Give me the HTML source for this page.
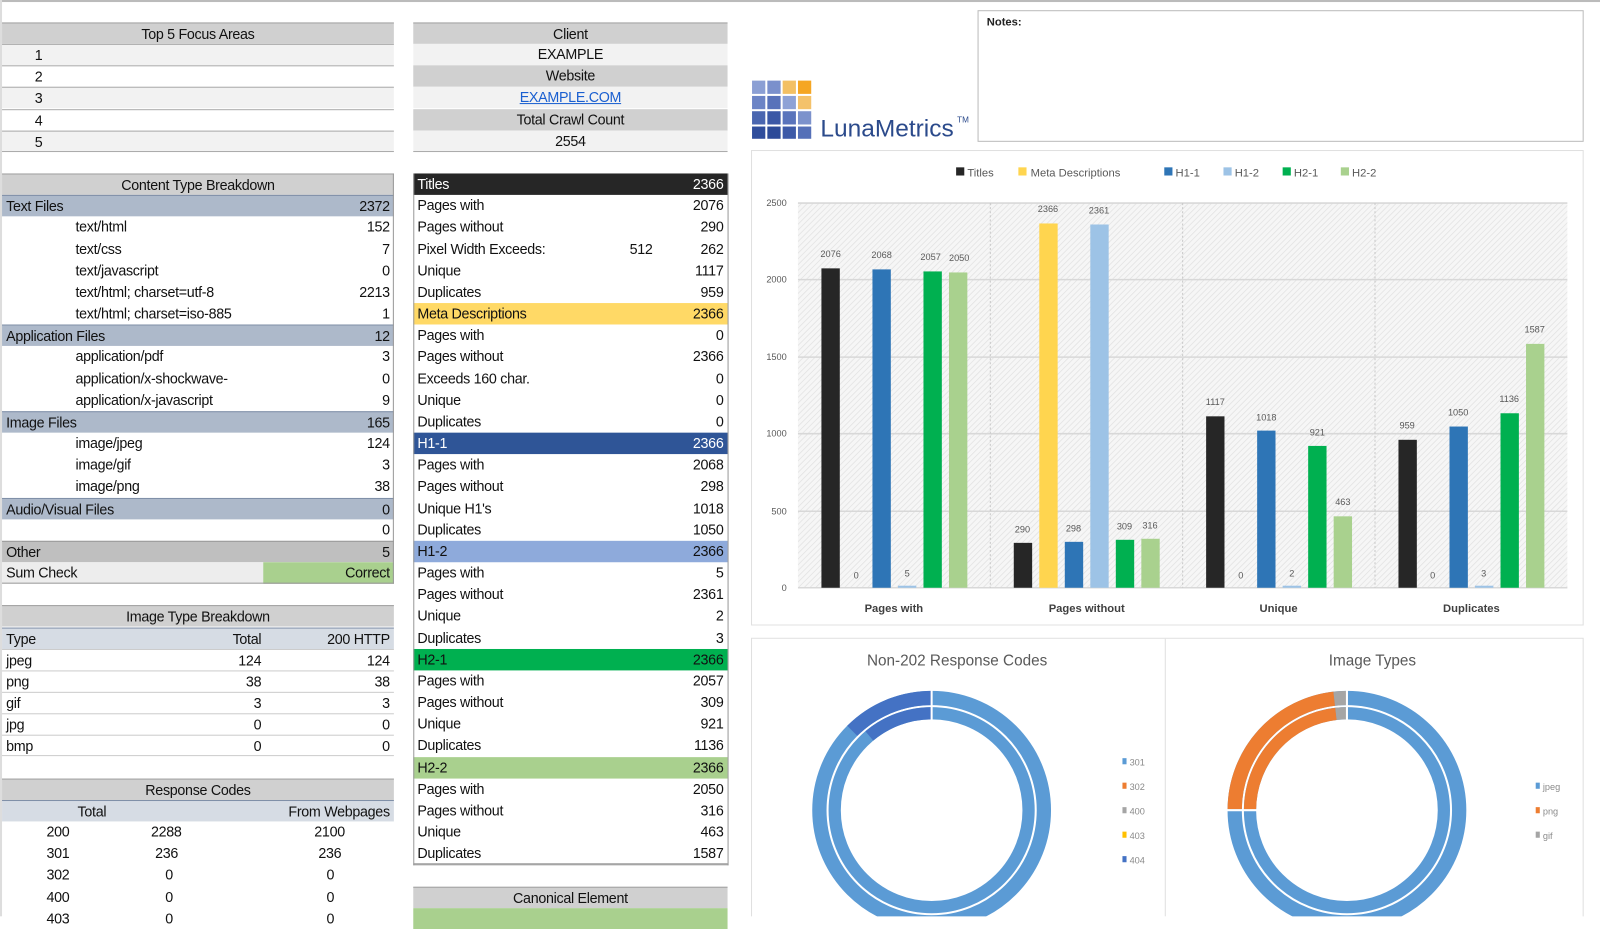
<!DOCTYPE html>
<html><head><meta charset="utf-8">
<style>
body{margin:0;width:1600px;height:916px;overflow:hidden;background:#fff;font-family:"Liberation Sans Narrow","Liberation Sans",sans-serif;position:relative}
#w{position:absolute;left:0;top:0;width:1568px;height:898px;transform:scale(1.020408);transform-origin:0 0}
.c{position:absolute;height:21px;line-height:21px;font-size:14px;color:#111;box-sizing:border-box;white-space:nowrap;overflow:hidden;letter-spacing:-0.3px}
.L{left:2px;width:384px}
.M{left:405px;width:308px}
.h{background:#d0d0d0;text-align:center;border-top:1px solid #a0a0a0}
.g{background:#f2f2f2}
.b{background:#adb9ca;border-top:1px solid #8090a8}
.v{position:absolute;right:4px;top:0}
.p{padding-left:4px}
.in{padding-left:72px}
</style></head><body><div id="w">
<div style="position:absolute;left:0;top:0;width:1568px;height:2px;background:#bbb"></div>
<div style="position:absolute;left:0;top:0;width:2px;height:898px;background:#ddd"></div>

<div class="c L h" style="top:21.8px">Top 5 Focus Areas</div>
<div class="c L g" style="top:43px;padding-left:32px;border-top:1px solid #aaa">1</div>
<div class="c L" style="top:64.1px;padding-left:32px;border-top:1px solid #aaa">2</div>
<div class="c L g" style="top:85.3px;padding-left:32px;border-top:1px solid #aaa">3</div>
<div class="c L" style="top:106.5px;padding-left:32px;border-top:1px solid #aaa">4</div>
<div class="c L g" style="top:127.7px;padding-left:32px;border-top:1px solid #aaa;border-bottom:1px solid #aaa">5</div>

<div class="c M h" style="top:21.8px">Client</div>
<div class="c M g" style="top:43px;text-align:center">EXAMPLE</div>
<div class="c M h" style="top:64.1px;border-top:none">Website</div>
<div class="c M g" style="top:85.3px;text-align:center;color:#1a5fd0;text-decoration:underline">EXAMPLE.COM</div>
<div class="c M h" style="top:106.5px;border-top:none">Total Crawl Count</div>
<div class="c M g" style="top:127.7px;text-align:center;border-bottom:1px solid #aaa">2554</div>

<div class="c L h" style="top:170px">Content Type Breakdown</div>
<div class="c L b p" style="top:191.2px">Text Files<span class="v">2372</span></div>
<div class="c L in" style="top:212.3px">text/html<span class="v">152</span></div>
<div class="c L in" style="top:233.5px">text/css<span class="v">7</span></div>
<div class="c L in" style="top:254.7px">text/javascript<span class="v">0</span></div>
<div class="c L in" style="top:275.9px">text/html; charset=utf-8<span class="v">2213</span></div>
<div class="c L in" style="top:297px">text/html; charset=iso-885<span class="v">1</span></div>
<div class="c L b p" style="top:318.2px">Application Files<span class="v">12</span></div>
<div class="c L in" style="top:339.4px">application/pdf<span class="v">3</span></div>
<div class="c L in" style="top:360.5px">application/x-shockwave-<span class="v">0</span></div>
<div class="c L in" style="top:381.7px">application/x-javascript<span class="v">9</span></div>
<div class="c L b p" style="top:402.9px">Image Files<span class="v">165</span></div>
<div class="c L in" style="top:424px">image/jpeg<span class="v">124</span></div>
<div class="c L in" style="top:445.2px">image/gif<span class="v">3</span></div>
<div class="c L in" style="top:466.4px">image/png<span class="v">38</span></div>
<div class="c L b p" style="top:487.6px">Audio/Visual Files<span class="v">0</span></div>
<div class="c L" style="top:508.7px"><span class="v">0</span></div>
<div class="c L p" style="top:529.9px;background:#bfbfbf;border-top:1px solid #999">Other<span class="v">5</span></div>
<div class="c L p" style="top:551.1px;background:#ededed;border-bottom:1px solid #999">Sum Check</div>
<div class="c" style="top:551.1px;left:258px;width:128px;background:#a9d08e;text-align:right;padding-right:4px;border-bottom:1px solid #999">Correct</div>

<div class="c L h" style="top:593.4px">Image Type Breakdown</div>
<div class="c L b p" style="top:614.6px;background:#d6dce4">Type<span style="position:absolute;right:130px">Total</span><span class="v">200 HTTP</span></div>
<div class="c L p" style="top:635.7px;border-top:1px solid #ccc">jpeg<span style="position:absolute;right:130px">124</span><span class="v">124</span></div>
<div class="c L p" style="top:656.9px;border-top:1px solid #ccc">png<span style="position:absolute;right:130px">38</span><span class="v">38</span></div>
<div class="c L p" style="top:678.1px;border-top:1px solid #ccc">gif<span style="position:absolute;right:130px">3</span><span class="v">3</span></div>
<div class="c L p" style="top:699.3px;border-top:1px solid #ccc">jpg<span style="position:absolute;right:130px">0</span><span class="v">0</span></div>
<div class="c L p" style="top:720.4px;border-top:1px solid #ccc;border-bottom:1px solid #ccc">bmp<span style="position:absolute;right:130px">0</span><span class="v">0</span></div>

<div class="c L h" style="top:762.8px">Response Codes</div>
<div class="c L b" style="top:783.9px;background:#d6dce4"><span style="position:absolute;left:74px">Total</span><span class="v">From Webpages</span></div>
<div class="c L" style="top:805.1px"><span style="position:absolute;right:318px">200</span><span style="position:absolute;left:146px">2288</span><span style="position:absolute;left:306px">2100</span></div>
<div class="c L" style="top:826.3px"><span style="position:absolute;right:318px">301</span><span style="position:absolute;left:150px">236</span><span style="position:absolute;left:310px">236</span></div>
<div class="c L" style="top:847.4px"><span style="position:absolute;right:318px">302</span><span style="position:absolute;left:160px">0</span><span style="position:absolute;left:318px">0</span></div>
<div class="c L" style="top:868.6px"><span style="position:absolute;right:318px">400</span><span style="position:absolute;left:160px">0</span><span style="position:absolute;left:318px">0</span></div>
<div class="c L" style="top:889.8px"><span style="position:absolute;right:318px">403</span><span style="position:absolute;left:160px">0</span><span style="position:absolute;left:318px">0</span></div>

<div class="c M p" style="top:170px;background:#262626;color:#fff">Titles<span class="v">2366</span></div>
<div class="c M p" style="top:191.2px">Pages with<span class="v">2076</span></div>
<div class="c M p" style="top:212.3px">Pages without<span class="v">290</span></div>
<div class="c M p" style="top:233.5px">Pixel Width Exceeds:<span style="position:absolute;left:212px">512</span><span class="v">262</span></div>
<div class="c M p" style="top:254.7px">Unique<span class="v">1117</span></div>
<div class="c M p" style="top:275.9px">Duplicates<span class="v">959</span></div>
<div class="c M p" style="top:297px;background:#ffd966">Meta Descriptions<span class="v">2366</span></div>
<div class="c M p" style="top:318.2px">Pages with<span class="v">0</span></div>
<div class="c M p" style="top:339.4px">Pages without<span class="v">2366</span></div>
<div class="c M p" style="top:360.5px">Exceeds 160 char.<span class="v">0</span></div>
<div class="c M p" style="top:381.7px">Unique<span class="v">0</span></div>
<div class="c M p" style="top:402.9px">Duplicates<span class="v">0</span></div>
<div class="c M p" style="top:424px;background:#2f5597;color:#fff">H1-1<span class="v">2366</span></div>
<div class="c M p" style="top:445.2px">Pages with<span class="v">2068</span></div>
<div class="c M p" style="top:466.4px">Pages without<span class="v">298</span></div>
<div class="c M p" style="top:487.6px">Unique H1's<span class="v">1018</span></div>
<div class="c M p" style="top:508.7px">Duplicates<span class="v">1050</span></div>
<div class="c M p" style="top:529.9px;background:#8eaadb">H1-2<span class="v">2366</span></div>
<div class="c M p" style="top:551.1px">Pages with<span class="v">5</span></div>
<div class="c M p" style="top:572.2px">Pages without<span class="v">2361</span></div>
<div class="c M p" style="top:593.4px">Unique<span class="v">2</span></div>
<div class="c M p" style="top:614.6px">Duplicates<span class="v">3</span></div>
<div class="c M p" style="top:635.7px;background:#00b050">H2-1<span class="v">2366</span></div>
<div class="c M p" style="top:656.9px">Pages with<span class="v">2057</span></div>
<div class="c M p" style="top:678.1px">Pages without<span class="v">309</span></div>
<div class="c M p" style="top:699.3px">Unique<span class="v">921</span></div>
<div class="c M p" style="top:720.4px">Duplicates<span class="v">1136</span></div>
<div class="c M p" style="top:741.6px;background:#a9d08e">H2-2<span class="v">2366</span></div>
<div class="c M p" style="top:762.8px">Pages with<span class="v">2050</span></div>
<div class="c M p" style="top:783.9px">Pages without<span class="v">316</span></div>
<div class="c M p" style="top:805.1px">Unique<span class="v">463</span></div>
<div class="c M p" style="top:826.3px;border-bottom:1px solid #999">Duplicates<span class="v">1587</span></div>
<div class="c M h" style="top:868.6px">Canonical Element</div>
<div class="c M" style="top:889.8px;background:#a9d08e"></div>
<div style="position:absolute;left:405px;top:170px;width:307px;height:677px;border:1px solid #999;border-top:none"></div>
<div style="position:absolute;left:2px;top:170px;width:383px;height:402px;border-right:1px solid #999"></div>

<div style="position:absolute;left:958px;top:10px;width:594px;height:129px;border:1px solid #bbb;box-sizing:border-box;font-size:11px;font-weight:bold;padding:5px 8px;color:#222">Notes:</div>

<svg style="position:absolute;left:0;top:0" width="1568" height="898">
<defs>
<pattern id="hat" width="4" height="4" patternUnits="userSpaceOnUse" patternTransform="rotate(45)">
<rect width="4" height="4" fill="#f6f6f6"/><line x1="0" y1="0" x2="0" y2="4" stroke="#e2e2e2" stroke-width="1.5"/></pattern>
</defs>
<g>
<rect x="737" y="79" width="13" height="13" fill="#8b9fd4"/><rect x="752" y="79" width="13" height="13" fill="#7a90cc"/><rect x="767" y="79" width="13" height="13" fill="#f3c064"/><rect x="782" y="79" width="13" height="13" fill="#f5a623"/>
<rect x="737" y="94" width="13" height="13" fill="#6c84c6"/><rect x="752" y="94" width="13" height="13" fill="#5872ba"/><rect x="767" y="94" width="13" height="13" fill="#8ea2d6"/><rect x="782" y="94" width="13" height="13" fill="#f4c26b"/>
<rect x="737" y="109" width="13" height="13" fill="#4a66b0"/><rect x="752" y="109" width="13" height="13" fill="#3b58a6"/><rect x="767" y="109" width="13" height="13" fill="#5a74bc"/><rect x="782" y="109" width="13" height="13" fill="#7c92cc"/>
<rect x="737" y="124" width="13" height="12" fill="#2f4d9c"/><rect x="752" y="124" width="13" height="12" fill="#2c4a98"/><rect x="767" y="124" width="13" height="12" fill="#3d5aa8"/><rect x="782" y="124" width="13" height="12" fill="#5570b8"/>
<text x="804" y="134" font-family="Liberation Sans" font-size="24" fill="#2b4a8b">LunaMetrics</text>
<text x="938" y="120" font-family="Liberation Sans" font-size="8" fill="#2b4a8b">TM</text>
</g>

<rect x="736.5" y="147.5" width="815" height="465" fill="#fff" stroke="#e0e0e0"/>
<g font-family="Liberation Sans" font-size="11" fill="#595959">
<rect x="937" y="164" width="8" height="8" fill="#262626"/><text x="948" y="173">Titles</text>
<rect x="998" y="164" width="8" height="8" fill="#ffd54f"/><text x="1010" y="173">Meta Descriptions</text>
<rect x="1141" y="164" width="8" height="8" fill="#2e75b6"/><text x="1152" y="173">H1-1</text>
<rect x="1199" y="164" width="8" height="8" fill="#9dc3e6"/><text x="1210" y="173">H1-2</text>
<rect x="1257" y="164" width="8" height="8" fill="#00b050"/><text x="1268" y="173">H2-1</text>
<rect x="1314" y="164" width="8" height="8" fill="#a9d18e"/><text x="1325" y="173">H2-2</text>
</g>
<rect x="782" y="199" width="754" height="377" fill="url(#hat)"/>
<g stroke="#d8d8d8" stroke-width="1.5">
<line x1="782" y1="199" x2="1536" y2="199"/><line x1="782" y1="274" x2="1536" y2="274"/><line x1="782" y1="350" x2="1536" y2="350"/><line x1="782" y1="425" x2="1536" y2="425"/><line x1="782" y1="501" x2="1536" y2="501"/><line x1="782" y1="576" x2="1536" y2="576"/>
</g>
<g stroke="#c8c8c8" stroke-dasharray="2,2"><line x1="970.5" y1="199" x2="970.5" y2="576"/><line x1="1159" y1="199" x2="1159" y2="576"/><line x1="1347.5" y1="199" x2="1347.5" y2="576"/></g>
<g font-family="Liberation Sans" font-size="9" fill="#595959" text-anchor="end">
<text x="771" y="202">2500</text><text x="771" y="277">2000</text><text x="771" y="353">1500</text><text x="771" y="428">1000</text><text x="771" y="504">500</text><text x="771" y="579">0</text>
</g>
<g>
<rect x="805" y="263" width="18" height="313" fill="#262626"/>
<rect x="855" y="264" width="18" height="312" fill="#2e75b6"/>
<rect x="880" y="574" width="18" height="2" fill="#9dc3e6"/>
<rect x="905" y="266" width="18" height="310" fill="#00b050"/>
<rect x="930" y="267" width="18" height="309" fill="#a9d18e"/>
<rect x="993.5" y="532" width="18" height="44" fill="#262626"/>
<rect x="1018.5" y="219" width="18" height="357" fill="#ffd54f"/>
<rect x="1043.5" y="531" width="18" height="45" fill="#2e75b6"/>
<rect x="1068.5" y="220" width="18" height="356" fill="#9dc3e6"/>
<rect x="1093.5" y="529" width="18" height="47" fill="#00b050"/>
<rect x="1118.5" y="528" width="18" height="48" fill="#a9d18e"/>
<rect x="1182" y="408" width="18" height="168" fill="#262626"/>
<rect x="1232" y="422" width="18" height="154" fill="#2e75b6"/>
<rect x="1257" y="574" width="18" height="2" fill="#9dc3e6"/>
<rect x="1282" y="437" width="18" height="139" fill="#00b050"/>
<rect x="1307" y="506" width="18" height="70" fill="#a9d18e"/>
<rect x="1370.5" y="431" width="18" height="145" fill="#262626"/>
<rect x="1420.5" y="418" width="18" height="158" fill="#2e75b6"/>
<rect x="1445.5" y="574" width="18" height="2" fill="#9dc3e6"/>
<rect x="1470.5" y="405" width="18" height="171" fill="#00b050"/>
<rect x="1495.5" y="337" width="18" height="239" fill="#a9d18e"/>
</g>
<g font-family="Liberation Sans" font-size="9" fill="#595959" text-anchor="middle">
<text x="814" y="252">2076</text><text x="839" y="567">0</text><text x="864" y="253">2068</text><text x="889" y="565">5</text><text x="912" y="255">2057</text><text x="940" y="256">2050</text>
<text x="1002" y="522">290</text><text x="1027" y="208">2366</text><text x="1052" y="521">298</text><text x="1077" y="209">2361</text><text x="1102" y="519">309</text><text x="1127" y="518">316</text>
<text x="1191" y="397">1117</text><text x="1216" y="567">0</text><text x="1241" y="412">1018</text><text x="1266" y="565">2</text><text x="1291" y="427">921</text><text x="1316" y="495">463</text>
<text x="1379" y="420">959</text><text x="1404" y="567">0</text><text x="1429" y="407">1050</text><text x="1454" y="565">3</text><text x="1479" y="394">1136</text><text x="1504" y="326">1587</text>
</g>
<g font-family="Liberation Sans" font-size="11" font-weight="bold" fill="#404040" text-anchor="middle">
<text x="876" y="600">Pages with</text><text x="1065" y="600">Pages without</text><text x="1253" y="600">Unique</text><text x="1442" y="600">Duplicates</text>
</g>

<rect x="736.5" y="625.5" width="815" height="300" fill="#fff" stroke="#e0e0e0"/>
<line x1="1142" y1="626" x2="1142" y2="898" stroke="#e0e0e0"/>
<g font-family="Liberation Sans" font-size="15" fill="#595959" text-anchor="middle">
<text x="938" y="652">Non-202 Response Codes</text><text x="1345" y="652">Image Types</text>
</g>
<g fill="none">
<circle cx="913" cy="794" r="110" stroke="#5b9bd5" stroke-width="14"/>
<circle cx="913" cy="794" r="95" stroke="#5b9bd5" stroke-width="12"/>
<circle cx="913" cy="794" r="110" stroke="#4472c4" stroke-width="14" stroke-dasharray="86.4 700" transform="rotate(225 913 794)"/>
<circle cx="913" cy="794" r="95" stroke="#4472c4" stroke-width="12" stroke-dasharray="66 700" transform="rotate(230 913 794)"/>
<line x1="913" y1="676" x2="913" y2="710" stroke="#fff" stroke-width="2"/>
</g>
<g fill="none">
<circle cx="1320" cy="794" r="110" stroke="#5b9bd5" stroke-width="14"/>
<circle cx="1320" cy="794" r="95" stroke="#5b9bd5" stroke-width="12"/>
<circle cx="1320" cy="794" r="110" stroke="#ed7d31" stroke-width="14" stroke-dasharray="159.3 700" transform="rotate(180.5 1320 794)"/>
<circle cx="1320" cy="794" r="95" stroke="#ed7d31" stroke-width="12" stroke-dasharray="137.6 700" transform="rotate(180.5 1320 794)"/>
<circle cx="1320" cy="794" r="110" stroke="#a5a5a5" stroke-width="14" stroke-dasharray="12.5 700" transform="rotate(263.5 1320 794)"/>
<circle cx="1320" cy="794" r="95" stroke="#a5a5a5" stroke-width="12" stroke-dasharray="10.8 700" transform="rotate(263.5 1320 794)"/>
<line x1="1320" y1="676" x2="1320" y2="710" stroke="#fff" stroke-width="2"/>
<line x1="1202" y1="794" x2="1236" y2="794" stroke="#fff" stroke-width="2"/>
</g>
<g font-family="Liberation Sans" font-size="9" fill="#8a8a8a">
<rect x="1100" y="743" width="4" height="6" fill="#5b9bd5"/><text x="1107" y="750">301</text>
<rect x="1100" y="767" width="4" height="6" fill="#ed7d31"/><text x="1107" y="774">302</text>
<rect x="1100" y="791" width="4" height="6" fill="#a5a5a5"/><text x="1107" y="798">400</text>
<rect x="1100" y="815" width="4" height="6" fill="#ffc000"/><text x="1107" y="822">403</text>
<rect x="1100" y="839" width="4" height="6" fill="#4472c4"/><text x="1107" y="846">404</text>
<rect x="1505" y="767" width="4" height="6" fill="#5b9bd5"/><text x="1512" y="774">jpeg</text>
<rect x="1505" y="791" width="4" height="6" fill="#ed7d31"/><text x="1512" y="798">png</text>
<rect x="1505" y="815" width="4" height="6" fill="#a5a5a5"/><text x="1512" y="822">gif</text>
</g>
</svg>
</div></body></html>
